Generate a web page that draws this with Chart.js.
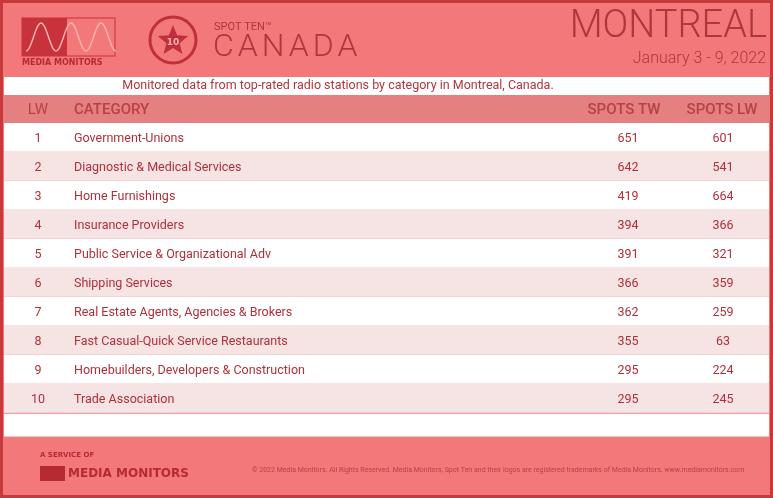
<!DOCTYPE html>
<html><head><meta charset="utf-8">
<script src="https://cdn.jsdelivr.net/npm/chart.js"></script>
<style>html,body{margin:0;padding:0;background:#fff}#c{display:block}</style>
</head><body>
<div style="width:773px;height:498px"><canvas id="c"></canvas></div>
<script>
// data of the table
const lastWeek = ["1","2","3","4","5","6","7","8","9","10"];
const categories = ["Government-Unions","Diagnostic & Medical Services","Home Furnishings","Insurance Providers","Public Service & Organizational Adv","Shipping Services","Real Estate Agents, Agencies & Brokers","Fast Casual-Quick Service Restaurants","Homebuilders, Developers & Construction","Trade Association"];
const spotsTW = [651,642,419,394,391,366,362,355,295,295];
const spotsLW = [601,541,664,366,321,359,259,63,224,245];

const RED = "#b0363e";

const tablePlugin = {
  id: "tabla",
  beforeDraw(chart) {
    const c = chart.ctx, W = chart.width, H = chart.height;
    const y = chart.scales.y;
    c.save();
    c.fillStyle = "#f27879"; c.fillRect(0,0,W,H);
    c.strokeStyle = "#c8393c"; c.lineWidth = 3; c.strokeRect(1.5,1.5,W-3,H-3);
    c.fillStyle = "#fff"; c.fillRect(4,77,W-8,18);
    c.fillStyle = "#e4807f"; c.fillRect(4,95,W-8,29);
    categories.forEach((cat,i) => {
      const py = y.getPixelForValue(i);
      c.fillStyle = i % 2 ? "#f6e3e3" : "#ffffff";
      c.fillRect(4, py-14.5, W-8, 29);
      c.fillStyle = "#ecc9c9"; c.fillRect(4, py+14, W-8, 1);
    });
    c.fillStyle = "#fff"; c.fillRect(4,414,W-8,22);
    c.fillStyle = "#ecc9c9"; c.fillRect(4,436,W-8,1);
    c.restore();
  },
  afterDraw(chart) {
    const c = chart.ctx, y = chart.scales.y;
    c.save();
    c.textBaseline = "middle";
    // logo
    c.fillStyle = "#c8323a"; c.fillRect(22,18,45,38);
    c.strokeStyle = "#c8323a"; c.lineWidth = 1; c.strokeRect(22,18,93,38);
    c.strokeStyle = "#f6b0b0"; c.lineWidth = 1.5; c.beginPath();
    for (let x = 0; x <= 90; x++) {
      const yy = 37 - 14*Math.sin(x/90*Math.PI*6 - Math.PI/2);
      x === 0 ? c.moveTo(26+x, yy) : c.lineTo(26+x, yy);
    }
    c.stroke();
    c.fillStyle = "#b82a32"; c.font = "bold 8px 'DejaVu Sans'"; c.textAlign = "left";
    c.fillText("MEDIA MONITORS", 22, 63);
    // star circle
    c.strokeStyle = "#c0303a"; c.lineWidth = 3;
    c.beginPath(); c.arc(173,40,23,0,Math.PI*2); c.stroke();
    c.fillStyle = "#c0303a"; c.beginPath();
    for (let k = 0; k < 10; k++) {
      const r = k % 2 ? 7 : 16, a = -Math.PI/2 + k*Math.PI/5;
      c.lineTo(173 + r*Math.cos(a), 41 + r*Math.sin(a));
    }
    c.closePath(); c.fill();
    c.fillStyle = "#f6b0b0"; c.font = "bold 9px 'DejaVu Sans'"; c.textAlign = "center";
    c.fillText("10", 173, 43);
    c.textAlign = "left"; c.fillStyle = RED;
    c.font = "11px Roboto"; c.fillText("SPOT TEN™", 214, 27);
    c.letterSpacing = "4px";
    c.font = "300 32px Roboto"; c.fillText("CANADA", 213, 48);
    c.letterSpacing = "0px";
    c.textAlign = "right";
    c.font = "300 38px Roboto"; c.fillText("MONTREAL", 767, 27);
    c.font = "300 16px Roboto"; c.fillText("January 3 - 9, 2022", 766, 59);
    c.textAlign = "center"; c.font = "12.5px Roboto";
    c.fillText("Monitored data from top-rated radio stations by category in Montreal, Canada.", 338, 86);
    // header
    c.font = "15px Roboto"; c.fillStyle = "#b8404a";
    c.fillText("LW", 38, 110);
    c.textAlign = "left"; c.font = "500 15px Roboto";
    c.fillText("CATEGORY", 74, 110);
    c.textAlign = "center";
    c.fillText("SPOTS TW", 624, 110); c.fillText("SPOTS LW", 722, 110);
    // rows
    c.font = "12.5px Roboto"; c.fillStyle = "#b0303a";
    categories.forEach((cat,i) => {
      const py = y.getPixelForValue(i) + 1;
      c.textAlign = "center"; c.fillText(lastWeek[i], 38, py);
      c.fillText(String(spotsTW[i]), 628, py);
      c.fillText(String(spotsLW[i]), 723, py);
      c.textAlign = "left"; c.fillText(cat, 74, py);
    });
    // footer
    c.fillStyle = "#b82a32"; c.font = "bold 7px 'DejaVu Sans'"; c.textAlign = "left";
    c.fillText("A SERVICE OF", 40, 455);
    c.fillRect(40,466,25,15);
    c.font = "bold 12px 'DejaVu Sans'"; c.fillText("MEDIA MONITORS", 68, 474);
    c.font = "7px Roboto"; c.fillStyle = "#b84048";
    c.fillText("© 2022 Media Monitors. All Rights Reserved. Media Monitors, Spot Ten and their logos are registered trademarks of Media Monitors. www.mediamonitors.com", 252, 470);
    c.restore();
  }
};

new Chart(document.getElementById("c"), {
  type: "bar",
  data: {
    labels: categories,
    datasets: [{ data: spotsTW, backgroundColor: "rgba(0,0,0,0)" }]
  },
  options: {
    indexAxis: "y",
    responsive: true, maintainAspectRatio: false, animation: false,
    layout: { padding: { top: 123, bottom: 85, left: 4, right: 4 } },
    plugins: { legend: { display: false }, tooltip: { enabled: false } },
    scales: { x: { display: false }, y: { display: false } }
  },
  plugins: [tablePlugin]
});
</script>
</body></html>
